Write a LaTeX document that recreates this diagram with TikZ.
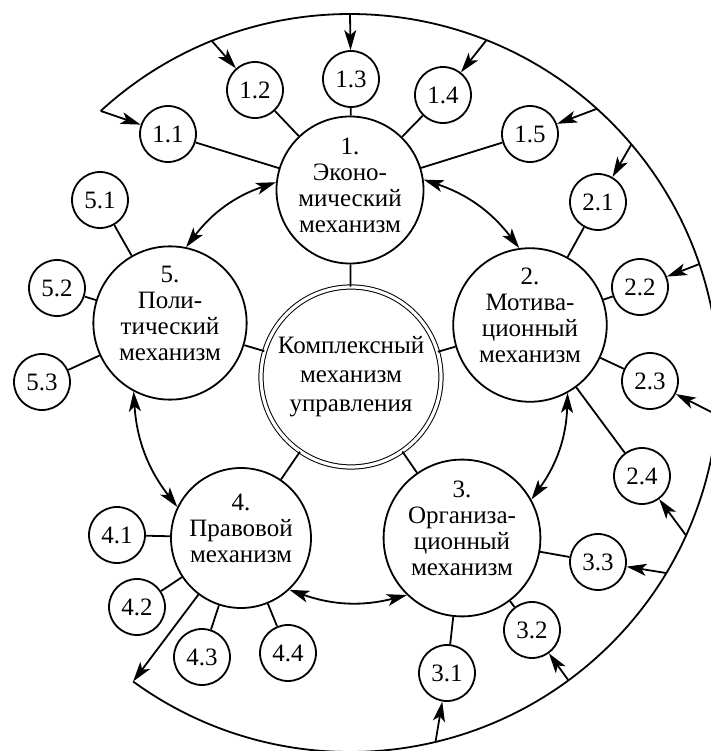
\documentclass[tikz,border=0pt]{standalone}
\usepackage{fontspec}
\setmainfont{Liberation Serif}
\usepackage{tikz}
\usetikzlibrary{arrows.meta}
\tikzstyle{mech} = [circle, draw=black, line width=0.9pt, minimum size=70pt, inner sep=0pt, align=center, font=\fontsize{12.5}{13}\selectfont]
\tikzstyle{core} = [circle, draw=black, double, double distance=1.6pt, line width=0.5pt, minimum size=90pt, inner sep=0pt, align=center, font=\fontsize{12.5}{14.5}\selectfont]
\tikzstyle{sub} = [circle, draw=black, line width=0.9pt, minimum size=28pt, inner sep=0pt, font=\fontsize{12.5}{13}\selectfont]
\tikzstyle{link} = [draw, line width=0.9pt]
\tikzstyle{line} = [draw, line width=0.9pt, -{Stealth[length=10pt, width=6pt, inset=2.5pt]}]
\tikzstyle{twoway} = [draw, line width=0.9pt, {Stealth[length=10pt, width=6pt, inset=2.5pt]}-{Stealth[length=10pt, width=6pt, inset=2.5pt]}]

\begin{document}
\begin{tikzpicture}[x=0.5pt, y=0.5pt]
				\useasboundingbox (0,0) rectangle (711,751);
				% Place nodes
				\node [core] (c) at (351,374) {Комплексный\\механизм\\управления};
				\node [mech] (m1) at (350,561) {1.\\Эконо-\\мический\\механизм\\[-8pt]\mbox{}};
				\node [mech] (m2) at (530,426) {2.\\Мотива-\\ционный\\механизм\\[-3pt]\mbox{}};
				\node [mech] (m3) at (462,213) {3.\\Организа-\\ционный\\механизм\\[-3pt]\mbox{}};
				\node [mech] (m4) at (241,213) {4.\\Правовой\\механизм\\[-3pt]\mbox{}};
				\node [mech] (m5) at (170,428) {5.\\Поли-\\тический\\механизм\\[-3pt]\mbox{}};
				\node [sub] (s11) at (168,617) {1.1};
				\node [sub] (s12) at (255,661) {1.2};
				\node [sub] (s13) at (351,672) {1.3};
				\node [sub] (s14) at (443,656) {1.4};
				\node [sub] (s15) at (530,617) {1.5};
				\node [sub] (s21) at (598,549) {2.1};
				\node [sub] (s22) at (640,464) {2.2};
				\node [sub] (s23) at (650,370) {2.3};
				\node [sub] (s24) at (642,275) {2.4};
				\node [sub] (s31) at (447,78) {3.1};
				\node [sub] (s32) at (532,121) {3.2};
				\node [sub] (s33) at (598,189) {3.3};
				\node [sub] (s41) at (117,216) {4.1};
				\node [sub] (s42) at (137,144) {4.2};
				\node [sub] (s43) at (202,94) {4.3};
				\node [sub] (s44) at (288,98) {4.4};
				\node [sub] (s51) at (100,551) {5.1};
				\node [sub] (s52) at (57,463) {5.2};
				\node [sub] (s53) at (42,369) {5.3};
				% Points on the outer arc
				\coordinate (o) at (350,368);
				\coordinate (b11) at ([shift={(132.5:369)}]o);
				\coordinate (b12) at ([shift={(112:369)}]o);
				\coordinate (b13) at ([shift={(90:369)}]o);
				\coordinate (b14) at ([shift={(68.3:369)}]o);
				\coordinate (b15) at ([shift={(48:369)}]o);
				\coordinate (b21) at ([shift={(40.3:369)}]o);
				\coordinate (b22) at ([shift={(18.8:369)}]o);
				\coordinate (b23) at ([shift={(-5:369)}]o);
				\coordinate (b24) at ([shift={(-24.4:369)}]o);
				\coordinate (b33) at ([shift={(-31:369)}]o);
				\coordinate (b32) at ([shift={(-53.7:369)}]o);
				\coordinate (b31) at ([shift={(-76.6:369)}]o);
				\coordinate (b4) at ([shift={(-126:369)}]o);
				% Connections to the centre
				\path [link] (m1) -- (c);
				\path [link] (m2) -- (c);
				\path [link] (m3) -- (c);
				\path [link] (m4) -- (c);
				\path [link] (m5) -- (c);
				\path [link] (m1) -- (s11);
				\path [link] (m1) -- (s12);
				\path [link] (m1) -- (s13);
				\path [link] (m1) -- (s14);
				\path [link] (m1) -- (s15);
				\path [link] (m2) -- (s21);
				\path [link] (m2) -- (s22);
				\path [link] (m2) -- (s23);
				\path [link] (m2) -- (s24);
				\path [link] (m3) -- (s31);
				\path [link] (m3) -- (s32);
				\path [link] (m3) -- (s33);
				\path [link] (m4) -- (s41);
				\path [link] (m4) -- (s42);
				\path [link] (m4) -- (s43);
				\path [link] (m4) -- (s44);
				\path [link] (m5) -- (s51);
				\path [link] (m5) -- (s52);
				\path [link] (m5) -- (s53);
				% Mechanisms with each other
				\path [twoway] (m1.8) to[bend left=17] (m2.98);
				\path [twoway] (m2.-61) to[bend left=17] (m3.29);
				\path [twoway] (m3.-134) to[bend left=17] (m4.-47);
				\path [twoway] (m4.154) to[bend left=17] (m5.-118);
				\path [twoway] (m5.78) to[bend left=17] (m1.174);
				% Feedback loop
				\path [line] (m4) -- (b4);
				\draw [line width=0.9pt] (b11) arc[start angle=132.5, end angle=-126, radius=369];
				\path [line] (b11) -- (s11);
				\path [line] (b12) -- (s12);
				\path [line] (b13) -- (s13);
				\path [line] (b14) -- (s14);
				\path [line] (b15) -- (s15);
				\path [line] (b21) -- (s21);
				\path [line] (b22) -- (s22);
				\path [line] (b23) -- (s23);
				\path [line] (b24) -- (s24);
				\path [line] (b33) -- (s33);
				\path [line] (b32) -- (s32);
				\path [line] (b31) -- (s31);
				\end{tikzpicture}
\end{document}
